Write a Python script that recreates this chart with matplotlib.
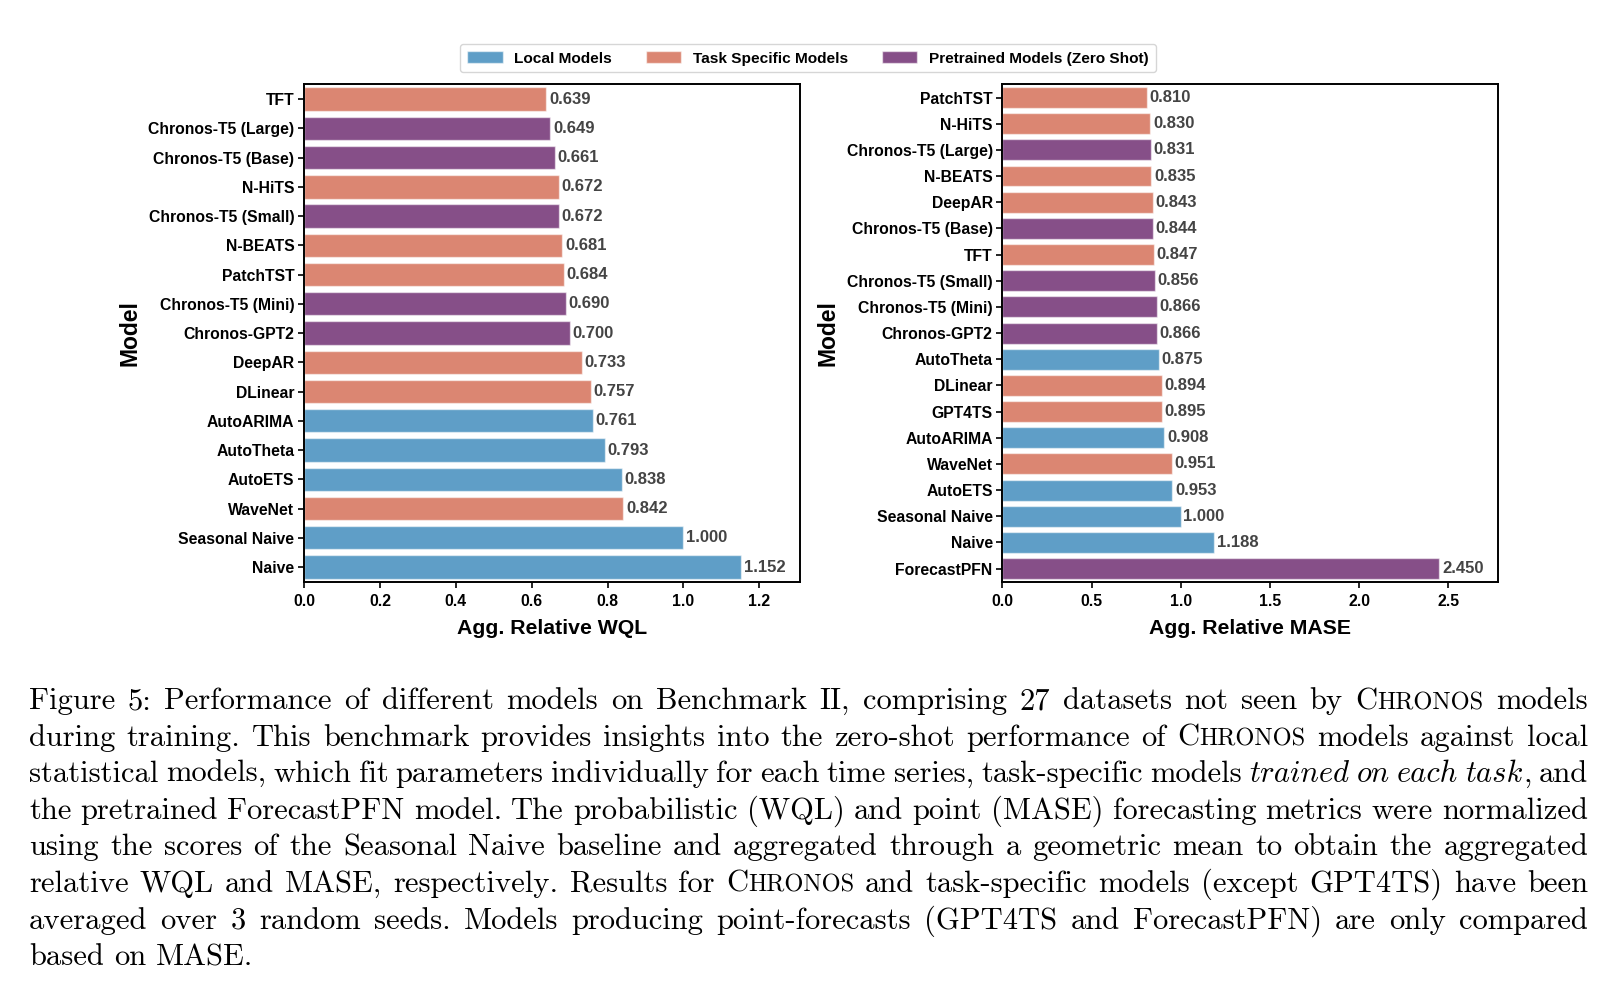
import numpy as np
import matplotlib.pyplot as plt
from matplotlib.patches import Patch

# Benchmark II results
wql_models = ["TFT", "Chronos-T5 (Large)", "Chronos-T5 (Base)", "N-HiTS", "Chronos-T5 (Small)",
              "N-BEATS", "PatchTST", "Chronos-T5 (Mini)", "Chronos-GPT2", "DeepAR", "DLinear",
              "AutoARIMA", "AutoTheta", "AutoETS", "WaveNet", "Seasonal Naive", "Naive"]
wql_values = [0.639, 0.649, 0.661, 0.672, 0.672, 0.681, 0.684, 0.690, 0.700, 0.733, 0.757,
              0.761, 0.793, 0.838, 0.842, 1.000, 1.152]

mase_models = ["PatchTST", "N-HiTS", "Chronos-T5 (Large)", "N-BEATS", "DeepAR", "Chronos-T5 (Base)",
               "TFT", "Chronos-T5 (Small)", "Chronos-T5 (Mini)", "Chronos-GPT2", "AutoTheta", "DLinear",
               "GPT4TS", "AutoARIMA", "WaveNet", "AutoETS", "Seasonal Naive", "Naive", "ForecastPFN"]
mase_values = [0.810, 0.830, 0.831, 0.835, 0.843, 0.844, 0.847, 0.856, 0.866, 0.866, 0.875, 0.894,
               0.895, 0.908, 0.951, 0.953, 1.000, 1.188, 2.450]

local_models = ["AutoARIMA", "AutoTheta", "AutoETS", "Seasonal Naive", "Naive"]
pretrained_models = ["Chronos-T5 (Large)", "Chronos-T5 (Base)", "Chronos-T5 (Small)",
                     "Chronos-T5 (Mini)", "Chronos-GPT2", "ForecastPFN"]

group_names = ["Local Models", "Task Specific Models", "Pretrained Models (Zero Shot)"]
group_colors = ["#5f9ec7", "#db8672", "#864f88"]

caption_lines = [
    "Figure 5: Performance of different models on Benchmark II, comprising 27 datasets not seen by CHRONOS models",
    "during training. This benchmark provides insights into the zero-shot performance of CHRONOS models against local",
    "statistical models, which fit parameters individually for each time series, task-specific models *trained* *on* *each* *task*, and",
    "the pretrained ForecastPFN model. The probabilistic (WQL) and point (MASE) forecasting metrics were normalized",
    "using the scores of the Seasonal Naive baseline and aggregated through a geometric mean to obtain the aggregated",
    "relative WQL and MASE, respectively. Results for CHRONOS and task-specific models (except GPT4TS) have been",
    "averaged over 3 random seeds. Models producing point-forecasts (GPT4TS and ForecastPFN) are only compared",
    "based on MASE.",
]

FONT = "Liberation Sans"
plt.rcParams["font.family"] = [FONT, "DejaVu Sans"]


def color_of(m):
    if m in local_models:
        return group_colors[0]
    if m in pretrained_models:
        return group_colors[2]
    return group_colors[1]


def bar_panel(ax, models, values, xlabel, xticks):
    y = np.arange(len(models))
    ax.barh(y, values, height=0.8, color=[color_of(m) for m in models],
            edgecolor=(1, 1, 1, 0.55), linewidth=1.0)
    for yi, v in zip(y, values):
        ax.text(v + max(values) * 0.006, yi, f"{v:.3f}", va="center", ha="left",
                fontsize=12, fontweight="bold", color="#444444")
    ax.set_ylim(len(models) - 0.5, -0.5)
    ax.set_xlim(0, max(values) * 1.135)
    ax.set_yticks(y)
    ax.set_yticklabels(models, fontsize=11.3, fontweight="bold")
    ax.set_xticks(xticks)
    ax.set_xticklabels([f"{t:.1f}" for t in xticks], fontsize=11.3, fontweight="bold")
    ax.set_xlabel(xlabel, fontsize=15.3, fontweight="bold", labelpad=7)
    ax.set_ylabel("Model", fontsize=16.5, fontweight="bold", labelpad=5)
    for s in ax.spines.values():
        s.set_linewidth(1.4)
        s.set_color("black")
    ax.tick_params(axis="x", length=4, width=1.2, pad=5)
    ax.tick_params(axis="y", length=4, width=1.2, pad=3)


fig = plt.figure(figsize=(16.14, 9.90), dpi=100)
ax1 = fig.add_axes([0.1884, 0.4125, 0.3073, 0.5022])
ax2 = fig.add_axes([0.6211, 0.4125, 0.3073, 0.5022])
bar_panel(ax1, wql_models, wql_values, "Agg. Relative WQL", [0.0, 0.2, 0.4, 0.6, 0.8, 1.0, 1.2])
bar_panel(ax2, mase_models, mase_values, "Agg. Relative MASE", [0.0, 0.5, 1.0, 1.5, 2.0, 2.5])

handles = [Patch(facecolor=c, edgecolor=(1, 1, 1, 0.55)) for c in group_colors]
fig.legend(handles, group_names, loc="center", bbox_to_anchor=(0.5006, 0.941), ncol=3,
           prop={"family": FONT, "weight": "bold", "size": 11.1},
           handlelength=2.3, handleheight=0.8, handletextpad=0.75, columnspacing=2.2,
           frameon=True, edgecolor="#cccccc", fancybox=True, borderpad=0.45)

# caption, set word by word so that lines are justified
W, H = fig.get_size_inches() * fig.dpi
cap_size = 22.0
roman = ["cmr10", "DejaVu Serif"]
italic = ["cmmi10", "DejaVu Serif"]
x_left, x_right = 29, 1588
base0, skip = 709, 36.6
renderer = fig.canvas.get_renderer()


def word_pieces(tok):
    if tok.startswith("*"):
        body, rest = tok[1:].split("*", 1)
        out = [(body, cap_size, italic)]
        if rest:
            out.append((rest, cap_size, roman))
        return out
    if "CHRONOS" in tok:
        pre, post = tok.split("CHRONOS", 1)
        out = []
        if pre:
            out.append((pre, cap_size, roman))
        out.append(("C", cap_size, roman))
        out.append(("HRONOS", cap_size * 0.8, roman))
        if post:
            out.append((post, cap_size, roman))
        return out
    return [(tok, cap_size, roman)]


space_px = 0.333 * cap_size * fig.dpi / 72
for i, line in enumerate(caption_lines):
    yb = 1 - (base0 + i * skip) / H
    words = []
    for tok in line.split(" "):
        arts = []
        for txt, fs, fam in word_pieces(tok):
            t = fig.text(0, yb, txt, fontsize=fs, family=fam, va="baseline", ha="left",
                         color="black")
            arts.append(t)
        widths = [a.get_window_extent(renderer).width for a in arts]
        words.append((arts, widths))
    total = sum(sum(w) for _, w in words)
    gaps = len(words) - 1
    last = i == len(caption_lines) - 1
    gap = space_px if last else max((x_right - x_left - total) / gaps, 0.2 * space_px)
    x = x_left
    for arts, widths in words:
        for a, w in zip(arts, widths):
            a.set_x(x / W)
            x += w
        x += gap

fig.savefig("out.png", dpi=100)
